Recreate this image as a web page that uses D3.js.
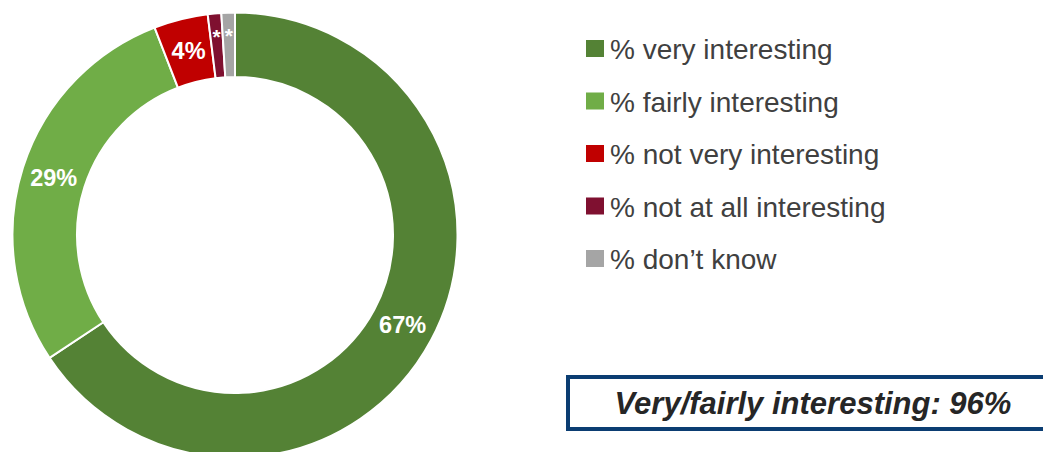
<!DOCTYPE html>
<html>
<head>
<meta charset="utf-8">
<script src="https://cdn.jsdelivr.net/npm/d3@7"></script>
<style>
  html, body { margin: 0; padding: 0; background: #fff; }
  svg { display: block; font-family: "Liberation Sans", Arial, sans-serif; }
</style>
</head>
<body>
<svg id="chart" width="1043" height="452"></svg>
<script>
// Survey answers, in drawing order (clockwise from 12 o'clock)
const categories = ["% very interesting", "% fairly interesting", "% not very interesting", "% not at all interesting", "% don\u2019t know"];
const values = [67, 29, 4, 1, 1];
const valueLabels = ["67%", "29%", "4%", "*", "*"];
const colors = ["#548235", "#70ad47", "#c00000", "#7f1030", "#a5a5a5"];
const summaryText = "Very/fairly interesting: 96%";

const svg = d3.select("#chart");

// Donut
const cx = 235, cy = 235, outerR = 222.5, innerR = 158;
const pie = d3.pie().sort(null).value(d => d.value);
const arc = d3.arc().innerRadius(innerR).outerRadius(outerR);
const starArc = d3.arc().innerRadius(innerR + 9).outerRadius(outerR + 9);

const data = categories.map((c, i) => ({ name: c, value: values[i], label: valueLabels[i], color: colors[i] }));
const arcs = pie(data);

const g = svg.append("g").attr("transform", `translate(${cx},${cy})`);
g.selectAll("path.slice")
  .data(arcs)
  .join("path")
  .attr("class", "slice")
  .attr("d", arc)
  .attr("fill", d => d.data.color)
  .attr("stroke", "#fff")
  .attr("stroke-width", 2);

g.selectAll("text.val")
  .data(arcs)
  .join("text")
  .attr("class", "val")
  .attr("transform", d => {
    const [x, y] = (d.data.label === "*" ? starArc : arc).centroid(d);
    return `translate(${x},${y})`;
  })
  .attr("text-anchor", "middle")
  .attr("dy", "0.36em")
  .attr("fill", "#fff")
  .attr("font-weight", "bold")
  .attr("font-size", d => d.data.label === "*" ? 21 : 23.5)
  .text(d => d.data.label);

// Legend
const legend = svg.append("g").attr("transform", "translate(586,40)");
const rowStep = 52.5;
const rows = legend.selectAll("g.row")
  .data(data)
  .join("g")
  .attr("class", "row")
  .attr("transform", (d, i) => `translate(0,${i * rowStep})`);
rows.append("rect")
  .attr("width", 18).attr("height", 17)
  .attr("fill", d => d.color);
rows.append("text")
  .attr("x", 24).attr("y", 9)
  .attr("dy", "0.36em")
  .attr("font-size", 28)
  .attr("fill", "#404040")
  .text(d => d.name);

// Summary box
svg.append("rect")
  .attr("x", 568).attr("y", 377)
  .attr("width", 490).attr("height", 52)
  .attr("fill", "#fff")
  .attr("stroke", "#0b3d72")
  .attr("stroke-width", 4);
svg.append("text")
  .attr("x", 813).attr("y", 414)
  .attr("text-anchor", "middle")
  .attr("font-size", 31)
  .attr("font-weight", "bold")
  .attr("font-style", "italic")
  .attr("fill", "#262626")
  .text(summaryText);
</script>
</body>
</html>
